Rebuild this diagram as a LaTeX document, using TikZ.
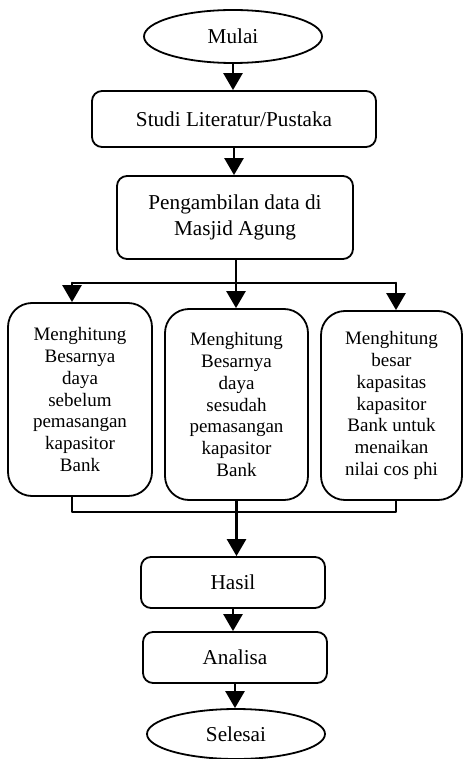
\documentclass[tikz,border=0pt]{standalone}
\usepackage{fontspec}
\setmainfont{Liberation Serif}
\usetikzlibrary{shapes.geometric}
\usetikzlibrary{arrows.meta}

\begin{document}
\begin{tikzpicture}[line cap=round,line join=round,x=0.5pt,y=-0.5pt,
  >={Triangle[length=8.5pt,width=9.5pt]},
  ujung/.style={draw,ellipse,line width=0.9pt,inner sep=0pt,font=\fontsize{10.6pt}{13.3pt}\selectfont},
  kotak/.style={draw,rectangle,rounded corners=5pt,line width=0.9pt,inner sep=0pt,align=center,font=\fontsize{10.6pt}{13.3pt}\selectfont},
  hitung/.style={draw,rectangle,rounded corners=12pt,line width=0.9pt,inner sep=0pt,align=center,font=\fontsize{9.5pt}{10.9pt}\selectfont},
  panah/.style={->,line width=1.3pt},
  garis/.style={line width=0.8pt}]
\useasboundingbox (0,0) rectangle (463,759);
% alur utama
\node[ujung,minimum width=89pt,minimum height=26.5pt] (mulai) at (233,36.5) {Mulai};
\node[kotak,minimum width=142pt,minimum height=28pt] (studi) at (234,119) {Studi Literatur/Pustaka};
\node[kotak,minimum width=118pt,minimum height=41.5pt] (ambil) at (235,217.5) {Pengambilan data di\\Masjid Agung};
% tiga perhitungan
\node[hitung,minimum width=72pt,minimum height=96.5pt] (hitung1) at (80,399.5) {Menghitung\\Besarnya\\daya\\sebelum\\pemasangan\\kapasitor\\Bank};
\node[hitung,minimum width=71.5pt,minimum height=95.5pt] (hitung2) at (236.5,404.5) {Menghitung\\Besarnya\\daya\\sesudah\\pemasangan\\kapasitor\\Bank};
\node[hitung,minimum width=70.5pt,minimum height=94.5pt] (hitung3) at (391.5,405.5) {Menghitung\\besar\\kapasitas\\kapasitor\\Bank untuk\\menaikan\\nilai cos phi};
\node[kotak,minimum width=92pt,minimum height=25.5pt] (hasil) at (233,582.5) {Hasil};
\node[kotak,minimum width=92pt,minimum height=25.5pt] (analisa) at (235,657.5) {Analisa};
\node[ujung,minimum width=89pt,minimum height=25pt] (selesai) at (236,734) {Selesai};
% titik cabang
\coordinate (kiri) at (72,283);
\coordinate (tengah) at (236,283);
\coordinate (kanan) at (396,283);
\coordinate (kiribawah) at (72,512);
\coordinate (kananbawah) at (396,512);
% panah
\draw[panah] (mulai.south) -- (mulai.south |- studi.north);
\draw[panah] (studi.south) -- (studi.south |- ambil.north);
\draw[line width=1.3pt] (ambil.south -| tengah) -- (tengah);
\draw[garis] (kiri) -- (kanan);
\draw[panah] (kiri) -- (kiri |- hitung1.north);
\draw[panah] (tengah) -- (tengah |- hitung2.north);
\draw[panah] (kanan) -- (kanan |- hitung3.north);
\draw[garis] (kiribawah |- hitung1.south) -- (kiribawah) -- (kananbawah) -- (kananbawah |- hitung3.south);
\draw[panah] (hitung2.south) -- (hitung2.south |- hasil.north);
\draw[panah] (hasil.south) -- (hasil.south |- analisa.north);
\draw[panah] (analisa.south) -- (analisa.south |- selesai.north);
\end{tikzpicture}
\end{document}
